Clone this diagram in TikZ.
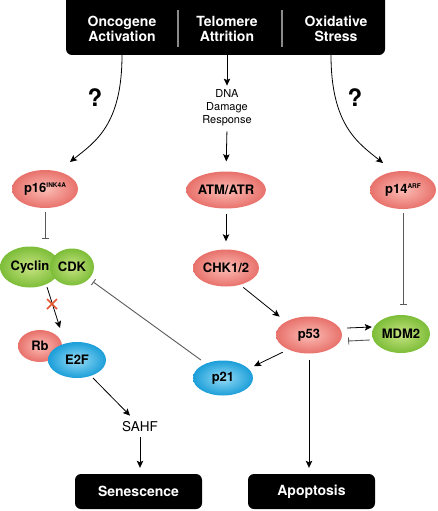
\documentclass[tikz,border=0pt]{standalone}
\usepackage{fontspec}
\setmainfont{TeX Gyre Heros}
\usetikzlibrary{shapes.geometric,arrows.meta,calc}
\definecolor{redO}{HTML}{E8716B}
\definecolor{redI}{HTML}{FBBDB5}
\definecolor{grnO}{HTML}{7CBD38}
\definecolor{grnI}{HTML}{C8E482}
\definecolor{bluO}{HTML}{1B9ED9}
\definecolor{bluI}{HTML}{95DBF5}
\definecolor{inh}{HTML}{5A5A5A}
\definecolor{xred}{HTML}{E4572E}
\definecolor{sep}{HTML}{8A8A8A}
\tikzset{
  prot/.style={ellipse, inner sep=0pt, font=\fontsize{13}{13}\selectfont\bfseries},
  redp/.style={prot, inner color=redI, outer color=redO},
  grnp/.style={prot, inner color=grnI, outer color=grnO},
  blup/.style={prot, inner color=bluI, outer color=bluO},
  arr/.style={draw=black, line width=0.8pt, -{Stealth[length=7pt,width=6.5pt,inset=1.5pt]}},
  inhib/.style={draw=inh, line width=0.9pt, -{Bar[width=7pt]}},
  blackbox/.style={fill=black, rounded corners=6pt, text=white,
    font=\fontsize{14}{14}\selectfont\bfseries, minimum width=127pt, minimum height=35pt},
  headtxt/.style={text=white, align=center, font=\fontsize{14}{15}\selectfont\bfseries},
  qmark/.style={font=\fontsize{24}{24}\selectfont\bfseries},
  plain/.style={align=center, inner sep=2pt},
}
\newcommand{\supx}[1]{\raisebox{4.5pt}{\fontsize{6.5}{6.5}\selectfont #1}}
\begin{document}
\begin{tikzpicture}[x=1pt,y=-1pt]
\useasboundingbox (0,0) rectangle (437,511);
\clip (0,0) rectangle (437,511);

% header
\node[fill=black, rounded corners=6pt, minimum width=319pt, minimum height=65pt, inner sep=0pt] (top) at (225.5,22.5) {};
\draw[sep, line width=1.2pt] (178,10) -- (178,47);
\draw[sep, line width=1.2pt] (282,10) -- (282,47);
\node[headtxt] (onc) at (122,29) {Oncogene\\Activation};
\node[headtxt] (tel) at (227,29) {Telomere\\Attrition};
\node[headtxt] (oxi) at (336,29) {Oxidative\\Stress};
\coordinate (oncb) at (122,55);
\coordinate (telb) at (227,55);
\coordinate (oxib) at (331,55);

\node[qmark] (q1) at (95,98) {?};
\node[qmark] (q2) at (355,98) {?};

\node[plain, font=\fontsize{11}{13}\selectfont] (dna) at (227,108) {DNA\\Damage\\Response};

% proteins
\node[redp, minimum width=66pt, minimum height=38pt] (p16) at (45,189) {p16\supx{INK4A}};
\node[redp, minimum width=66pt, minimum height=37pt] (atm) at (226,190) {ATM/ATR};
\node[redp, minimum width=66pt, minimum height=38pt] (p14) at (403,190) {p14\supx{ARF}};
\node[redp, minimum width=66pt, minimum height=37pt] (chk) at (226,268) {CHK1/2};
\node[grnp, minimum width=60pt, minimum height=41pt] (cyclin) at (30,267) {Cyclin};
\node[grnp, minimum width=44pt, minimum height=37pt] (cdk) at (72,267) {CDK};
\node[redp, minimum width=44pt, minimum height=32pt] (rb) at (40,346) {Rb};
\node[blup, minimum width=58pt, minimum height=36pt] (e2f) at (77,360) {E2F};
\node[redp, minimum width=66pt, minimum height=37pt] (p53) at (309,335) {p53};
\node[grnp, minimum width=58pt, minimum height=38pt] (mdm2) at (401,334) {MDM2};
\node[blup, minimum width=60pt, minimum height=35pt] (p21) at (223,378) {p21};

\node[plain, font=\fontsize{13.5}{14}\selectfont] (sahf) at (140,427) {SAHF};
\node[blackbox] (sen) at (138.5,491.5) {Senescence};
\node[blackbox] (apo) at (311.5,491.5) {Apoptosis};

\coordinate (p16in) at (70,162);
\coordinate (p14in) at (383,163);

% connectors
\draw[arr] (oncb) .. controls +(0,70) and +(25,-20) .. (p16in);
\draw[arr] (oxib) .. controls +(0,70) and +(-25,-20) .. (p14in);
\draw[arr, shorten >=2pt] (telb) -- (dna.north);
\draw[arr, shorten <=3pt, shorten >=10pt] (dna.south) -- (atm.north);
\draw[arr, shorten <=5pt, shorten >=8pt] (atm.south) -- (chk.north);
\draw[inhib, shorten <=4pt, shorten >=7pt] (p16.south) -- (p16.south |- cyclin.north);
\draw[inhib, shorten <=4pt, shorten >=10pt] (p14.south) -- (p14.south |- mdm2.north);
\draw[arr, shorten <=4pt, shorten >=8pt] (chk.-50) -- (p53.150);
\draw[arr, shorten <=6pt, shorten >=6pt] (p53.215) -- (p21.20);
\draw[arr] ($(p53.east)+(5,-7)$) -- ($(mdm2.west)+(0,-7)$);
\draw[inhib] ($(mdm2.west)+(-2,6)$) -- ($(p53.east)+(6,6)$);
\draw[arr, shorten <=6pt, shorten >=6pt] (p53.south) -- (p53.south |- apo.north);
\draw[inhib, shorten <=6pt, shorten >=5pt] (p21.140) -- (cdk.-35);
\draw[arr] ($(cyclin)+(17,20)$) -- ($(rb)+(20,-18)$);
\draw[xred, line width=1.6pt] (47,299) -- (57,309) (57,299) -- (47,309);
\draw[arr] ($(e2f)+(16,18)$) -- ($(sahf.north)+(-10,-4)$);
\draw[arr, shorten <=3pt, shorten >=6pt] (sahf.south) -- (sahf.south |- sen.north);
\end{tikzpicture}
\end{document}
